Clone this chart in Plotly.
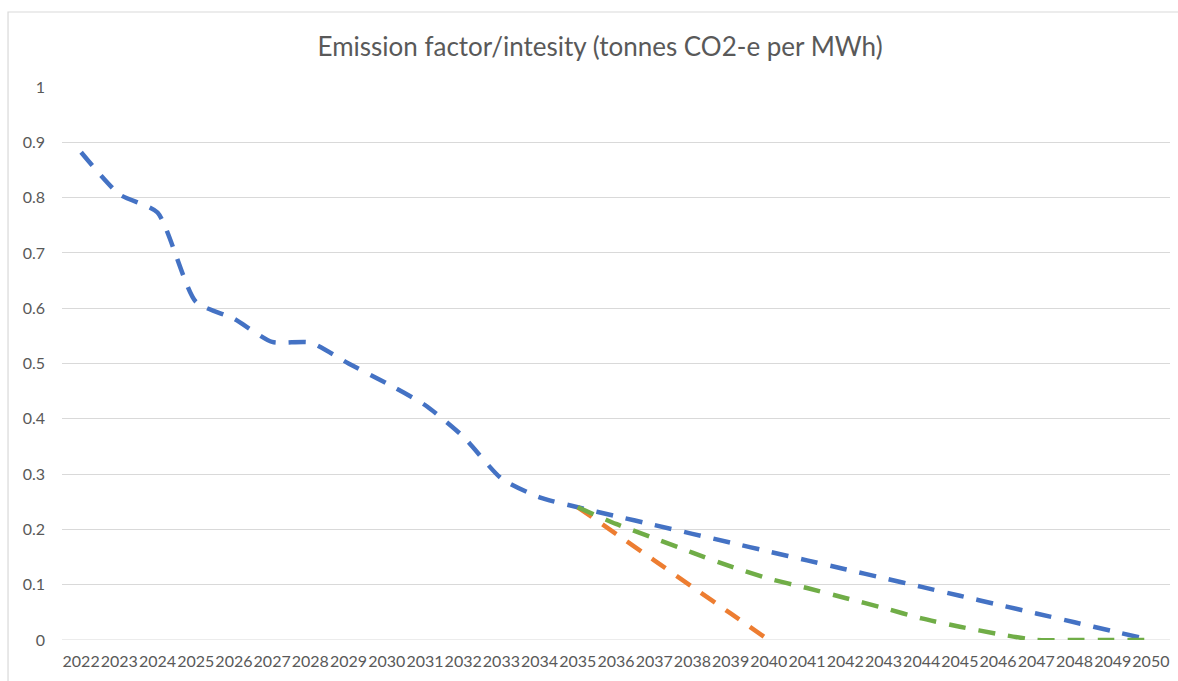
import plotly.graph_objects as go

# Years on the category axis
years = [str(y) for y in range(2022, 2051)]

# Emission intensity pathways (tonnes CO2-e per MWh)
base_path = [0.882, 0.806, 0.773, 0.612, 0.581, 0.539, 0.538, 0.500, 0.464, 0.425,
             0.368, 0.292, 0.258, 0.240, 0.224, 0.208, 0.192, 0.176, 0.160, 0.144,
             0.128, 0.112, 0.096, 0.080, 0.064, 0.048, 0.032, 0.016, 0.000]
fast_path = [None] * 13 + [0.240, 0.192, 0.144, 0.096, 0.048, 0.000]
mid_path = [None] * 13 + [0.240, 0.210, 0.184, 0.158, 0.133, 0.111, 0.094, 0.076,
                          0.058, 0.039, 0.024, 0.011, 0.000, 0.000, 0.000, 0.000]

y_ticks = [0, 0.1, 0.2, 0.3, 0.4, 0.5, 0.6, 0.7, 0.8, 0.9, 1]
y_tick_text = ["0", "0.1", "0.2", "0.3", "0.4", "0.5", "0.6", "0.7", "0.8", "0.9", "1"]

title_text = "Emission factor/intesity (tonnes CO2-e per MWh)"

series = [
    ("Base", base_path, "#4472C4"),
    ("Fast", fast_path, "#ED7D31"),
    ("Mid", mid_path, "#70AD47"),
]

fig = go.Figure()
for name, vals, color in series:
    fig.add_trace(go.Scatter(
        x=years, y=vals, mode="lines", name=name,
        line=dict(color=color, width=4.5, dash="17px,13px", shape="spline", smoothing=0.6),
        connectgaps=False,
    ))

axis_font = dict(family="Lato, 'Open Sans', sans-serif", size=16, color="#595959")

fig.update_layout(
    width=1178, height=681,
    margin=dict(l=62, r=8, t=87, b=41),
    paper_bgcolor="white", plot_bgcolor="white",
    showlegend=False,
    title=dict(text=title_text, x=0.4856, xref="paper", xanchor="center",
               y=1 - 47 / 681, yref="container", yanchor="middle",
               font=dict(family="Lato, 'Open Sans', sans-serif", size=26, color="#595959")),
    xaxis=dict(type="category", range=[-0.5, 28.5], showgrid=False, zeroline=False,
               showline=False, ticks="", tickfont=axis_font, tickangle=0,
               ticklabelstandoff=10),
    yaxis=dict(range=[0, 1], tickvals=y_ticks, ticktext=y_tick_text,
               showgrid=True, gridcolor="#d9d9d9", gridwidth=1, zeroline=False,
               showline=False, ticks="", tickfont=axis_font, ticklabelstandoff=16),
    shapes=[dict(type="rect", xref="paper", yref="paper",
                 x0=-0.0487, x1=1.02, y0=-0.2, y1=1.1356,
                 line=dict(color="#d9d9d9", width=1.2), fillcolor="rgba(0,0,0,0)",
                 layer="below")],
)
# baseline gridline at zero
fig.add_hline(y=0, line=dict(color="#d9d9d9", width=1), layer="below")

fig.write_html("out.html")
